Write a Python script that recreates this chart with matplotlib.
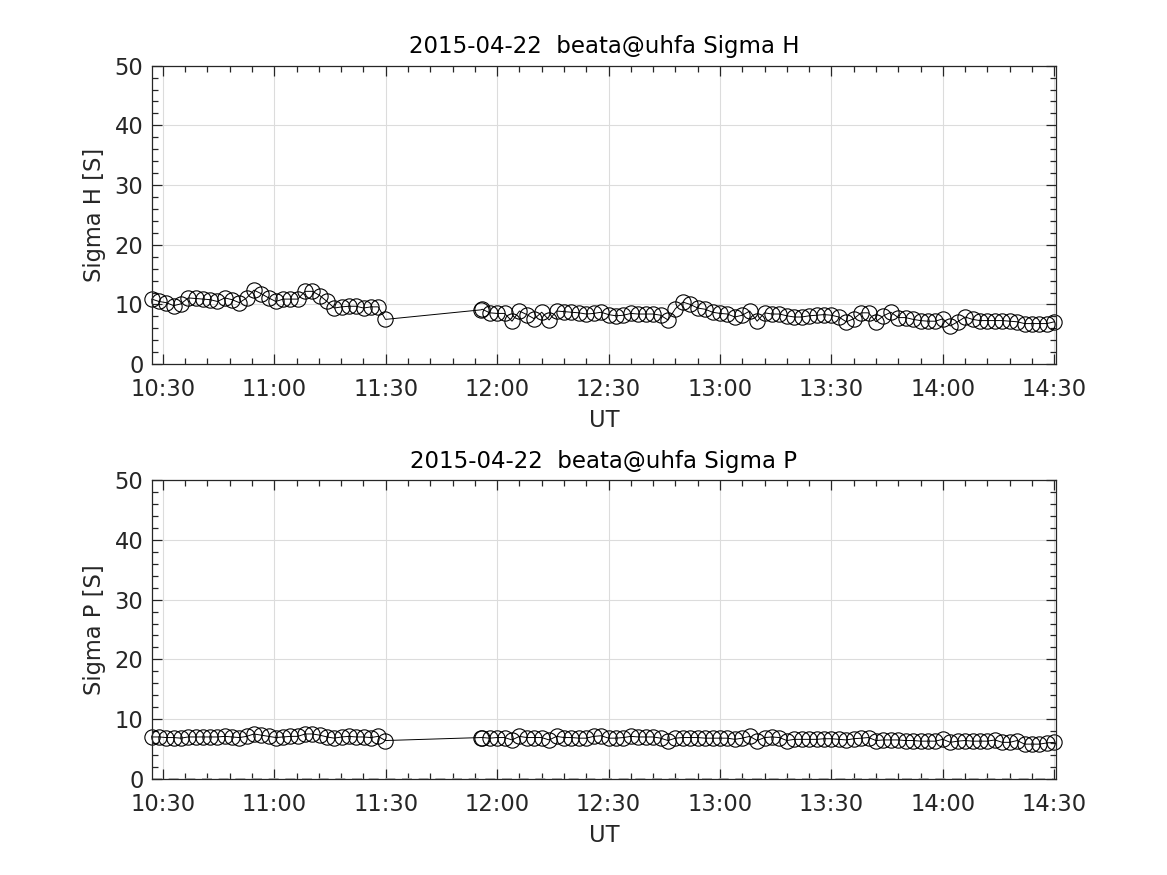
import numpy as np
import pandas as pd
import matplotlib
matplotlib.use("Agg")
import matplotlib.pyplot as plt
import matplotlib.dates as mdates

# ---- data ----------------------------------------------------------------
day = "2015-04-22"
title_h = "2015-04-22  beata@uhfa Sigma H"
title_p = "2015-04-22  beata@uhfa Sigma P"

# first block of samples (10:27 - 11:30)
t1 = pd.date_range(day + " 10:27:00", periods=33, freq="118s")
# second block (11:56 - 14:30), with a double sample at the start
t2 = pd.DatetimeIndex([pd.Timestamp(day + " 11:55:40")]).append(
    pd.date_range(day + " 11:56:00", periods=78, freq="120s"))

sigma_h1 = [10.9, 10.5, 10.3, 9.8, 10.1, 11.1, 11.0, 10.9, 10.8, 10.5, 11.1,
            10.8, 10.3, 11.1, 12.4, 11.8, 11.1, 10.5, 10.9, 10.9, 10.9, 12.2,
            12.2, 11.5, 10.5, 9.4, 9.6, 9.7, 9.7, 9.4, 9.6, 9.6, 7.5]
sigma_h2 = [9.1, 9.2, 8.6, 8.5, 8.5, 7.2, 8.9, 8.3, 7.6, 8.7, 7.4, 8.9, 8.8,
            8.7, 8.6, 8.4, 8.5, 8.7, 8.3, 8.1, 8.2, 8.5, 8.4, 8.4, 8.4, 8.2,
            7.4, 9.3, 10.4, 10.0, 9.4, 9.2, 8.7, 8.5, 8.4, 7.9, 8.2,
            8.9, 7.2, 8.6, 8.4, 8.4, 8.1, 7.9, 7.9, 8.1, 8.2, 8.3, 8.2, 7.9,
            7.1, 7.6, 8.6, 8.6, 7.1, 8.1, 8.7, 7.8, 7.8, 7.5, 7.3, 7.2, 7.2,
            7.6, 6.4, 7.1, 7.9, 7.5, 7.3, 7.3, 7.3, 7.3, 7.2, 7.1, 6.8, 6.8,
            6.8, 6.8, 7.1]

sigma_p1 = [7.0, 7.0, 6.9, 6.9, 6.8, 7.0, 7.0, 7.0, 7.0, 7.0, 7.1, 7.0, 6.9,
            7.1, 7.5, 7.3, 7.1, 6.9, 7.0, 7.1, 7.1, 7.5, 7.5, 7.3, 7.0, 6.8,
            7.0, 7.1, 7.0, 7.0, 6.9, 7.1, 6.4]
sigma_p2 = [6.9, 6.9, 6.8, 6.9, 6.9, 6.5, 7.1, 6.9, 6.9, 6.9, 6.5, 7.1, 6.9,
            6.9, 6.8, 6.8, 7.1, 7.2, 6.8, 6.8, 6.9, 7.1, 7.0, 7.0, 7.0, 6.8,
            6.4, 6.8, 6.9, 6.9, 6.9, 6.8, 6.8, 6.8, 6.8, 6.6, 6.8,
            7.1, 6.4, 6.9, 7.0, 6.9, 6.4, 6.6, 6.6, 6.6, 6.6, 6.7, 6.7, 6.6,
            6.5, 6.7, 6.8, 6.9, 6.4, 6.5, 6.5, 6.5, 6.4, 6.4, 6.3, 6.3, 6.3,
            6.6, 6.1, 6.3, 6.4, 6.3, 6.3, 6.3, 6.5, 6.1, 6.1, 6.4, 5.8, 5.8,
            5.8, 6.0, 6.1]

t_all = t1.append(t2)
x_start = pd.Timestamp(day + " 10:27:00")
x_end = pd.Timestamp(day + " 14:30:30")
#============================================

matplotlib.rcParams["font.family"] = "DejaVu Sans"
ax_col = "#262626"


def style_axes(ax, title, ylabel):
    ax.set_xlim(x_start, x_end)
    ax.set_ylim(0, 50)
    ax.set_yticks([0, 10, 20, 30, 40, 50])
    ax.set_yticks(np.arange(0, 51, 2), minor=True)
    ax.xaxis.set_major_locator(mdates.MinuteLocator(byminute=[0, 30]))
    ax.xaxis.set_minor_locator(mdates.MinuteLocator(byminute=range(0, 60, 6)))
    ax.xaxis.set_major_formatter(mdates.DateFormatter("%H:%M"))
    ax.grid(True, which="major", color="#dcdcdc", linewidth=0.8)
    ax.set_axisbelow(True)
    ax.tick_params(which="both", direction="in", top=True, right=True,
                   colors=ax_col, labelsize=16.3, width=0.9)
    ax.tick_params(which="major", length=7)
    ax.tick_params(which="minor", length=4)
    ax.tick_params(axis="x", which="major", pad=10)
    ax.tick_params(axis="y", which="major", pad=6)
    for s in ax.spines.values():
        s.set_color(ax_col)
        s.set_linewidth(0.9)
    ax.set_title(title, fontsize=16.5, color="black", pad=9)
    ax.set_ylabel(ylabel, fontsize=16.3, color=ax_col, labelpad=6)
    ax.set_xlabel("UT", fontsize=16.3, color=ax_col, labelpad=6)


fig = plt.figure(figsize=(11.67, 8.75), dpi=100)
ax1 = fig.add_axes([0.13, 0.5838, 0.775, 0.3412])
ax2 = fig.add_axes([0.13, 0.11, 0.775, 0.3412])

ax1.plot(t_all, sigma_h1 + sigma_h2, "-o", color="black", linewidth=0.7,
         markersize=11, markerfacecolor="none", markeredgewidth=0.8,
         clip_on=False)
style_axes(ax1, title_h, "Sigma H [S]")

ax2.plot(t_all, np.zeros(len(t_all)), "--", color="#aaaaaa", linewidth=1.2,
         dashes=(6, 4))
ax2.plot(t_all, sigma_p1 + sigma_p2, "-o", color="black", linewidth=0.7,
         markersize=11, markerfacecolor="none", markeredgewidth=0.8,
         clip_on=False)
style_axes(ax2, title_p, "Sigma P [S]")

plt.savefig("out.png", dpi=100)
